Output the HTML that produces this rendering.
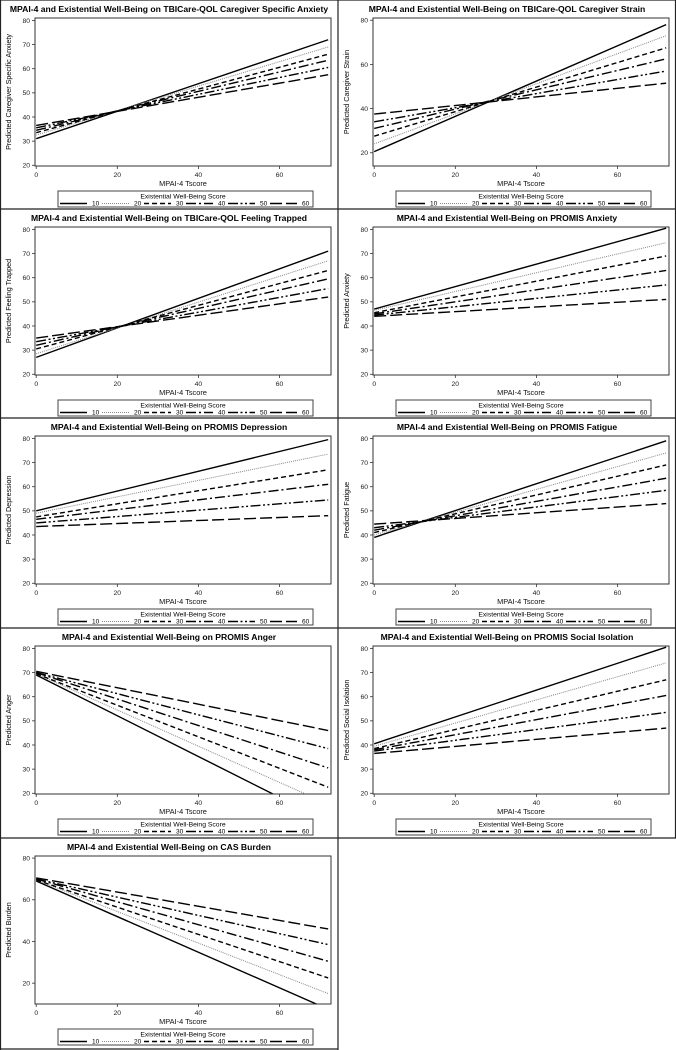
<!DOCTYPE html>
<html><head><meta charset="utf-8"><style>
html,body{margin:0;padding:0;background:#fff;}
svg{display:block;font-family:"Liberation Sans",Arial,sans-serif;}
</style></head><body>
<svg id="fig" width="676" height="1050" viewBox="0 0 676 1050"></svg>
<script>
const groups = [10,20,30,40,50,60];
const xTicks = [0,20,40,60];
const titles = [
 "MPAI-4 and Existential Well-Being on TBICare-QOL Caregiver Specific Anxiety",
 "MPAI-4 and Existential Well-Being on TBICare-QOL Caregiver Strain",
 "MPAI-4 and Existential Well-Being on TBICare-QOL Feeling Trapped",
 "MPAI-4 and Existential Well-Being on PROMIS Anxiety",
 "MPAI-4 and Existential Well-Being on PROMIS Depression",
 "MPAI-4 and Existential Well-Being on PROMIS Fatigue",
 "MPAI-4 and Existential Well-Being on PROMIS Anger",
 "MPAI-4 and Existential Well-Being on PROMIS Social Isolation",
 "MPAI-4 and Existential Well-Being on CAS Burden"];
const yTitles = ["Predicted Caregiver Specific Anxiety","Predicted Caregiver Strain","Predicted Feeling Trapped","Predicted Anxiety","Predicted Depression","Predicted Fatigue","Predicted Anger","Predicted Social Isolation","Predicted Burden"];
const yTicks = [[20,30,40,50,60,70,80],[20,40,60,80],[20,30,40,50,60,70,80],[20,30,40,50,60,70,80],[20,30,40,50,60,70,80],[20,30,40,50,60,70,80],[20,30,40,50,60,70,80],[20,30,40,50,60,70,80],[20,40,60,80]];
const yMin = [19.7,14,19.7,19.7,19.7,19.7,19.7,19.7,10];
const yMax = [81,81,81,81,81,81,81,81,81];
// predicted values at MPAI-4 = 0 and = 72 for EWB 10..60
const startVals = [
 [31,32.5,33.5,34.5,35.5,36.5],
 [20.5,24,27.5,31,34,37.5],
 [27,28.5,30.5,32,33.5,35],
 [47,46.5,45.5,45,44.5,44],
 [50,49,47.5,46.5,45,43.5],
 [39,40,41,42,43,44.5],
 [69,69.5,69.5,70,70,70.5],
 [40.5,39.5,38.5,38,37.5,36.5],
 [69,69.5,69.5,70,70,70.5]];
const endVals = [
 [72,69,66,63.5,60.5,57.5],
 [78,73,67.5,62.5,57,51.5],
 [71,67,63,59.5,55.5,52],
 [80.5,74.5,69,63,57,51],
 [79.5,73.5,67,61,54.5,48],
 [79,74,69,63.5,58.5,53],
 [8.2,15.5,22.5,30.5,38.5,46],
 [80.5,74,67,60.5,53.5,47],
 [7.5,15,22.5,30.5,38.5,46]];
const xStart = 0, xEnd = 72;

const NS="http://www.w3.org/2000/svg";
const fig=document.getElementById('fig');
const styles=[
 {c:"#000",w:1.4,d:""},
 {c:"#888",w:1,d:"1,1"},
 {c:"#000",w:1.4,d:"5,3"},
 {c:"#000",w:1.4,d:"10,3,2,3"},
 {c:"#000",w:1.4,d:"10,2.5,2,2.5,2,2.5"},
 {c:"#000",w:1.4,d:"12,4"}];
function mk(tag,attrs,parent){const e=document.createElementNS(NS,tag);for(const k in attrs)e.setAttribute(k,attrs[k]);parent.appendChild(e);return e;}
const offs=[[0,0],[338,0],[0,209],[338,209],[0,418],[338,418],[0,628],[338,628],[0,838]];
const PL=35,PR=331,PT=18,PB=166,XMIN=-0.3,XMAX=72.7;
offs.forEach((o,i)=>{
 const g=mk('g',{transform:`translate(${o[0]},${o[1]})`},fig);
 
 
 const xs=v=>PL+(v-XMIN)/(XMAX-XMIN)*(PR-PL);
 const ys=v=>PB-(v-yMin[i])/(yMax[i]-yMin[i])*(PB-PT);
 const t=mk('text',{x:169,y:12,'text-anchor':'middle','font-size':'8.6','font-weight':'bold'},g);t.textContent=titles[i];
 
 const yt=mk('text',{x:0,y:0,'text-anchor':'middle','font-size':'7.2',transform:`translate(11,${(PT+PB)/2}) rotate(-90)`},g);yt.textContent=yTitles[i];
 
 const cid='clip'+i;
 const cp=mk('clipPath',{id:cid},g);mk('rect',{x:PL,y:PT,width:PR-PL,height:PB-PT},cp);
 const lg=mk('g',{'clip-path':`url(#${cid})`},g);
 groups.forEach((gv,k)=>{
  const s=styles[k];
  const ln=mk('line',{x1:xs(xStart),y1:ys(startVals[i][k]),x2:xs(xEnd),y2:ys(endVals[i][k]),stroke:s.c,'stroke-width':s.w,'stroke-dasharray':s.d},lg);
  
  
 });
 const fr=mk('rect',{x:PL,y:PT,width:PR-PL,height:PB-PT,fill:'none',stroke:'#333','stroke-width':1},g);
 
 yTicks[i].forEach(v=>{
  mk('line',{x1:PL-3,x2:PL,y1:ys(v),y2:ys(v),stroke:'#333','stroke-width':0.8},g);
  const tl=mk('text',{x:PL-5,y:ys(v)+2.4,'text-anchor':'end','font-size':'6.8',fill:'#222'},g);tl.textContent=v;
  
 });
 xTicks.forEach(v=>{
  mk('line',{x1:xs(v),x2:xs(v),y1:PB,y2:PB+3,stroke:'#333','stroke-width':0.8},g);
  const tl=mk('text',{x:xs(v),y:PB+11,'text-anchor':'middle','font-size':'6.8',fill:'#222'},g);tl.textContent=v;
  
 });
 const xt=mk('text',{x:183,y:186,'text-anchor':'middle','font-size':'7.4',fill:'#111'},g);xt.textContent="MPAI-4 Tscore";
 
 const leg=mk('g',{},g);
 
 mk('rect',{x:58,y:191,width:255,height:16,fill:'#fff',stroke:'#444','stroke-width':1},leg);
 const lt=mk('text',{x:183,y:198.5,'text-anchor':'middle','font-size':'6.8'},leg);lt.textContent="Existential Well-Being Score";
 groups.forEach((gv,k)=>{
  const s=styles[k];const x0=60+k*42;
  mk('line',{x1:x0,x2:x0+27,y1:203.5,y2:203.5,stroke:s.c,'stroke-width':s.w,'stroke-dasharray':s.d},leg);
  const et=mk('text',{x:x0+32,y:205.5,'font-size':'6.5'},leg);et.textContent=gv;
  
 });
});
// panel borders
[[0,0,676,0],[0,209,676,209],[0,418,676,418],[0,628,676,628],[0,838,676,838],[0,1049,338,1049],[338,0,338,1050],[0.5,0,0.5,1050],[675.5,0,675.5,838]].forEach(b=>{
 const l=mk('line',{x1:b[0],y1:b[1],x2:b[2],y2:b[3],stroke:'#222','stroke-width':1.2},fig);
 
});
</script>
</body></html>
